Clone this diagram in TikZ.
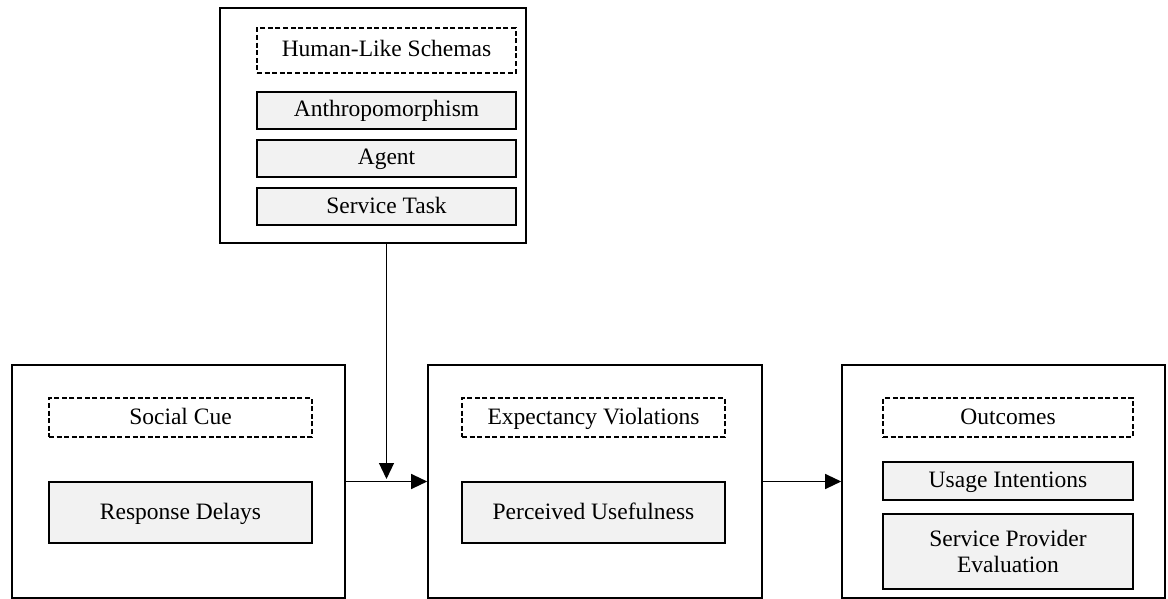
\documentclass[tikz,border=0pt]{standalone}
\usepackage{fontspec}
\setmainfont{Liberation Serif}
\usetikzlibrary{arrows.meta}
\definecolor{cellgray}{HTML}{F2F2F2}
\tikzset{
  x=1pt, y=-1pt,
  every node/.style={font=\fontsize{23.5}{26}\selectfont, inner sep=0pt, align=center},
  outerbox/.style={draw=black, line width=1.6pt, fill=white},
  headbox/.style={draw=black, line width=1.4pt, dash pattern=on 5pt off 2.6pt, text height=17pt, text depth=4pt},
  itembox/.style={draw=black, line width=1.6pt, fill=cellgray},
  oneline/.style={text height=17pt, text depth=4pt},
  link/.style={line width=1.2pt, -{Triangle[length=16pt, width=15pt]}}
}
\begin{document}
\begin{tikzpicture}
\useasboundingbox (0,0) rectangle (1168,599);

% moderator block
\node[outerbox, minimum width=306pt, minimum height=235pt] (schemas) at (373,125.5) {};
\node[headbox, minimum width=259pt, minimum height=45pt] (schemashead) at (386.5,50.5) {Human-Like Schemas};
\node[itembox, oneline, minimum width=259pt, minimum height=37pt] (anthro) at (386.5,110.5) {Anthropomorphism};
\node[itembox, oneline, minimum width=259pt, minimum height=37pt] (agent) at (386.5,158.5) {Agent};
\node[itembox, oneline, minimum width=259pt, minimum height=37pt] (task) at (386.5,206.5) {Service Task};

% social cue block
\node[outerbox, minimum width=333pt, minimum height=233pt] (cue) at (178.5,481.5) {};
\node[headbox, minimum width=263pt, minimum height=39pt] (cuehead) at (180.5,417.5) {Social Cue};
\node[itembox, oneline, minimum width=263pt, minimum height=61pt] (delays) at (180.5,512.5) {Response Delays};

% expectancy violations block
\node[outerbox, minimum width=334pt, minimum height=233pt] (ev) at (595,481.5) {};
\node[headbox, minimum width=263pt, minimum height=39pt] (evhead) at (593.5,417.5) {Expectancy Violations};
\node[itembox, oneline, minimum width=263pt, minimum height=61pt] (useful) at (593.5,512.5) {Perceived Usefulness};

% outcomes block
\node[outerbox, minimum width=323pt, minimum height=233pt] (out) at (1003.5,481.5) {};
\node[headbox, minimum width=250pt, minimum height=39pt] (outhead) at (1008,417.5) {Outcomes};
\node[itembox, oneline, minimum width=250pt, minimum height=38pt] (usage) at (1008,481) {Usage Intentions};
\node[itembox, minimum width=250pt, minimum height=75pt] (provider) at (1008,551.5) {Service Provider\\Evaluation};

% connectors
\coordinate (join) at (386.5,479);
\draw[link] (schemas.south -| join) -- (join);
\draw[link] (cue.east) -- (ev.west);
\draw[link] (ev.east) -- (out.west);
\end{tikzpicture}
\end{document}
